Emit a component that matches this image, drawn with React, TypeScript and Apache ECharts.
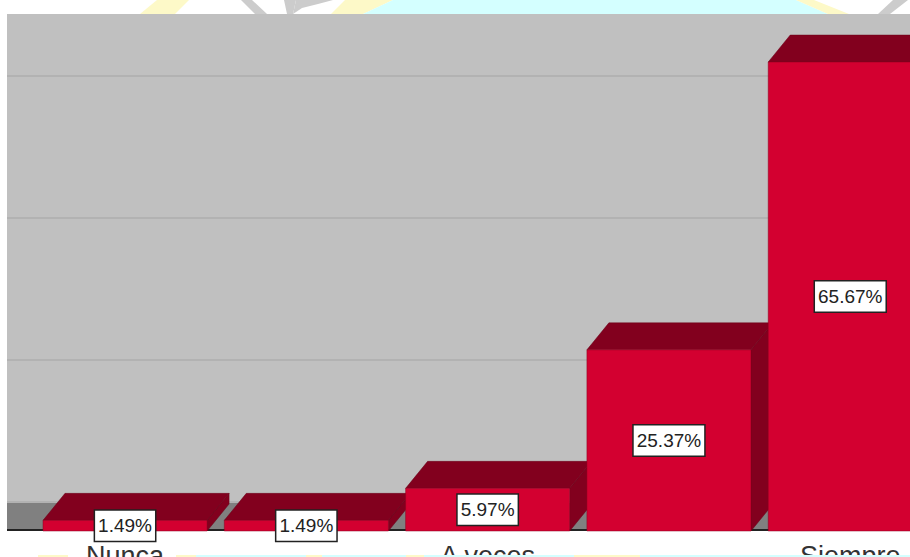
import React, { useEffect, useRef } from "react";
import * as echarts from "echarts";

const categories = ["Nunca", "Casi nunca", "A veces", "Casi siempre", "Siempre"];
const percentValues = [1.49, 1.49, 5.97, 25.37, 65.67];

const FRONT = "#d30030";
const DARK = "#82001e";
const WALL = "#c0c0c0";
const FLOOR = "#808080";
const YELLOW = "#fdf9c8";
const CYAN = "#d4ffff";
const WMGREY = "#cccccc";

const poly = (points: number[][], fill: string, z = 0) => ({
  type: "polygon",
  z,
  silent: true,
  shape: { points },
  style: { fill },
});
const box = (x: number, y: number, width: number, height: number, fill: string, z = 1) => ({
  type: "rect",
  z,
  silent: true,
  shape: { x, y, width, height },
  style: { fill },
});

export default function App() {
  const ref = useRef<HTMLDivElement>(null);
  useEffect(() => {
    const chart = echarts.init(ref.current!, undefined, { renderer: "svg" });
    const dx = 22;
    const dy = 27;
    chart.setOption({
      animation: false,
      backgroundColor: "#ffffff",
      grid: [
        { left: 7, right: 0, top: 14, bottom: 55, show: true, backgroundColor: WALL, borderWidth: 0, outerBoundsMode: "none" },
        { left: 34.4, width: 906.5, top: 14, bottom: 26, show: false, outerBoundsMode: "none" },
      ],
      xAxis: [
        { gridIndex: 0, type: "category", data: categories, show: false },
        {
          gridIndex: 1,
          type: "category",
          data: categories,
          axisLine: { show: false },
          axisTick: { show: false },
          axisLabel: {
            interval: 1,
            margin: 11,
            color: "#333333",
            fontFamily: "Liberation Sans",
            fontSize: 27,
          },
        },
      ],
      yAxis: [
        {
          gridIndex: 0,
          type: "value",
          min: 0,
          max: 68.73,
          interval: 20,
          axisLine: { show: false },
          axisTick: { show: false },
          axisLabel: { show: false },
          splitLine: { show: true, showMaxLine: false, lineStyle: { color: "#b2b2b2", width: 2 } },
        },
        { gridIndex: 1, type: "value", min: 0, max: 72.4, show: false, splitLine: { show: false } },
      ],
      graphic: [
        box(7, 503, 903, 28, FLOOR),
        box(7, 529, 903, 2, "#222222", 2),
        // watermark behind the chart, top strip
        poly([[157, 0], [189, 0], [175, 14], [140, 14]], YELLOW),
        poly([[241, 0], [252, 0], [267, 14], [255, 14]], WMGREY),
        poly([[284, 0], [296, 0], [293, 14], [287, 14]], WMGREY),
        poly([[296, 0], [333, 0], [318, 4], [302, 8], [293, 14]], WMGREY),
        poly([[345, 0], [393, 0], [363, 14], [331, 14]], YELLOW),
        poly([[393, 0], [796, 0], [828, 14], [363, 14]], CYAN),
        poly([[796, 0], [814, 0], [849, 14], [828, 14]], YELLOW),
        poly([[893, 0], [908, 0], [890, 14], [878, 14]], WMGREY),
        // watermark band crossing the clipped labels, bottom strip
        box(38, 555, 30, 2, YELLOW, 100),
        box(176, 555, 20, 2, YELLOW, 100),
        box(196, 555, 110, 2, CYAN, 100),
        box(306, 555, 16, 2, YELLOW, 100),
        box(322, 555, 84, 2, CYAN, 100),
        box(406, 555, 18, 2, YELLOW, 100),
        box(424, 555, 150, 2, CYAN, 100),
        box(574, 555, 66, 2, YELLOW, 100),
        box(640, 555, 270, 2, CYAN, 100),
      ],
      series: [
        {
          type: "custom",
          coordinateSystem: "cartesian2d",
          xAxisIndex: 1,
          yAxisIndex: 1,
          clip: false,
          z: 5,
          data: percentValues.map((v, i) => [i, v]),
          renderItem: (_p: any, api: any) => {
            const i = api.value(0);
            const v = api.value(1);
            const top = api.coord([i, v]);
            const base = api.coord([i, 0]);
            const w = api.size([1, 0])[0] * 0.905;
            const x1 = top[0] - w / 2;
            const x2 = top[0] + w / 2;
            const t = top[1];
            const b = base[1];
            return {
              type: "group",
              children: [
                {
                  type: "polygon",
                  shape: { points: [[x2, t], [x2 + dx, t - dy], [x2 + dx, b - dy], [x2, b]] },
                  style: { fill: DARK, stroke: "#6a0018", lineWidth: 0.5 },
                },
                {
                  type: "polygon",
                  shape: { points: [[x1, t], [x1 + dx, t - dy], [x2 + dx, t - dy], [x2, t]] },
                  style: { fill: DARK, stroke: "#6a0018", lineWidth: 0.5 },
                },
                {
                  type: "rect",
                  shape: { x: x1, y: t, width: w, height: b - t },
                  style: { fill: FRONT, stroke: "#8a0020", lineWidth: 0.5 },
                },
                {
                  type: "text",
                  z2: 10,
                  style: {
                    x: top[0],
                    y: (t + b) / 2,
                    text: v.toFixed(2) + "%",
                    align: "center",
                    verticalAlign: "middle",
                    fontFamily: "Liberation Sans",
                    fontSize: 19,
                    fill: "#222222",
                    backgroundColor: "#ffffff",
                    borderColor: "#222222",
                    borderWidth: 1.5,
                    padding: [6, 3, 5, 3],
                  },
                },
              ],
            };
          },
        },
      ],
    });
    return () => chart.dispose();
  }, []);
  return <div ref={ref} style={{ position: "fixed", left: 0, top: 0, width: 910, height: 557 }} />;
}
